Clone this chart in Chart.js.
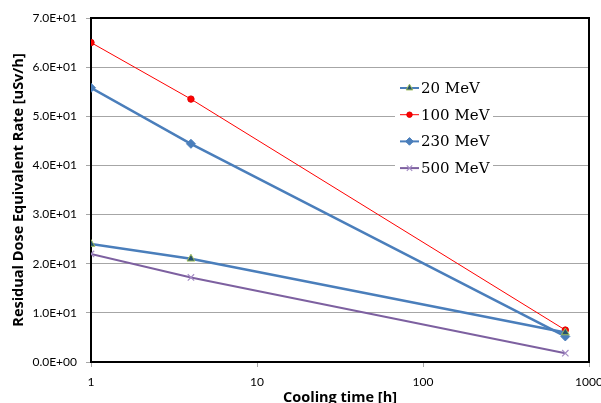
<!DOCTYPE html>
<html>
<head>
<meta charset="utf-8">
<title>Residual Dose Equivalent Rate</title>
<script src="https://cdn.jsdelivr.net/npm/chart.js@4/dist/chart.umd.min.js"></script>
<style>
    html, body { margin: 0; padding: 0; background: #ffffff; }
    #wrap { width: 601px; height: 403px; position: relative; }
</style>
</head>
<body>
<div id="wrap"><canvas id="doseChart"></canvas></div>
<script>
// ==============================
// Data
// ==============================

const coolingTimes = [1, 4, 720];

const seriesNames = ["20 MeV", "100 MeV", "230 MeV", "500 MeV"];

const dose20 = [24.0, 21.0, 6.0];
const dose100 = [65.0, 53.5, 6.5];
const dose230 = [55.8, 44.4, 5.2];
const dose500 = [22.0, 17.2, 1.8];

const xTicks = [1, 10, 100, 1000];
const yMin = 0;
const yMax = 70;
const yStep = 10;

// ==============================
// Helpers
// ==============================

function toPoints(values) {
    return coolingTimes.map((t, i) => ({ x: t, y: values[i] }));
}

function sciLabel(v) {
    if (v === 0) return "0.0E+00";
    const e = Math.floor(Math.log10(v) + 1e-9);
    const m = v / Math.pow(10, e);
    return m.toFixed(1) + "E" + (e < 0 ? "-" : "+") + String(Math.abs(e)).padStart(2, "0");
}

// ==============================
// Legend + frame plugin
// ==============================

const boxLegend = {
    id: "boxLegend",
    afterDatasetsDraw(chart) {
        const ctx = chart.ctx;
        const area = chart.chartArea;

        // frame around plot
        ctx.save();
        ctx.strokeStyle = "#000000";
        ctx.lineWidth = 2;
        ctx.beginPath();
        ctx.moveTo(area.left, area.top);
        ctx.lineTo(area.right, area.top);
        ctx.lineTo(area.right, area.bottom);
        ctx.stroke();

        // legend box
        ctx.fillStyle = "#ffffff";
        ctx.fillRect(395, 75, 98, 106);

        ctx.font = "15px 'DejaVu Serif'";
        ctx.textBaseline = "middle";
        ctx.textAlign = "left";

        chart.data.datasets.forEach((ds, i) => {
            const y = 88 + i * 26.7;
            ctx.strokeStyle = ds.borderColor;
            ctx.lineWidth = Math.min(ds.borderWidth, 2);
            ctx.beginPath();
            ctx.moveTo(400, y);
            ctx.lineTo(419, y);
            ctx.stroke();

            ctx.fillStyle = ds.pointBackgroundColor;
            ctx.strokeStyle = ds.pointBorderColor;
            ctx.lineWidth = ds.pointBorderWidth;
            Chart.helpers.drawPoint(ctx, {
                pointStyle: ds.pointStyle,
                radius: ds.pointRadius * 0.85,
                rotation: 0,
                borderWidth: ds.pointBorderWidth
            }, 409.5, y);

            ctx.fillStyle = "#000000";
            ctx.fillText(ds.label, 421, y + 1);
        });

        ctx.restore();
    }
};

// ==============================
// Chart
// ==============================

const tickFont = { family: "Lato", size: 12 };
const titleFont = { family: "'Open Sans'", size: 14.5, weight: "bold", lineHeight: 1 };

new Chart(document.getElementById("doseChart"), {
    type: "line",
    data: {
        datasets: [
            {
                label: seriesNames[0],
                data: toPoints(dose20),
                borderColor: "#4A7EBB",
                borderWidth: 2.5,
                pointStyle: "triangle",
                pointRadius: 4.5,
                pointBackgroundColor: "#24506E",
                pointBorderColor: "#9BBB59",
                pointBorderWidth: 1
            },
            {
                label: seriesNames[1],
                data: toPoints(dose100),
                borderColor: "#FF0000",
                borderWidth: 1,
                pointStyle: "circle",
                pointRadius: 3.2,
                pointBackgroundColor: "#FF0000",
                pointBorderColor: "#E00000",
                pointBorderWidth: 1
            },
            {
                label: seriesNames[2],
                data: toPoints(dose230),
                borderColor: "#4A7EBB",
                borderWidth: 2.5,
                pointStyle: "rectRot",
                pointRadius: 4.5,
                pointBackgroundColor: "#4A7EBB",
                pointBorderColor: "#4A7EBB",
                pointBorderWidth: 1
            },
            {
                label: seriesNames[3],
                data: toPoints(dose500),
                borderColor: "#7D60A0",
                borderWidth: 2,
                pointStyle: "crossRot",
                pointRadius: 4.5,
                pointBackgroundColor: "#7D60A0",
                pointBorderColor: "#A48CC4",
                pointBorderWidth: 1.2
            }
        ]
    },
    options: {
        responsive: true,
        maintainAspectRatio: false,
        animation: false,
        layout: {
            padding: { left: 0, right: 12, top: 18, bottom: 0 }
        },
        plugins: {
            legend: { display: false },
            tooltip: { enabled: false }
        },
        elements: {
            line: { tension: 0 }
        },
        scales: {
            x: {
                type: "logarithmic",
                min: 1,
                max: 1000,
                afterBuildTicks: (scale) => {
                    scale.ticks = xTicks.map(v => ({ value: v }));
                },
                afterFit: (scale) => {
                    scale.height = 41;
                    scale.paddingLeft = 0;
                    scale.paddingRight = 0;
                },
                ticks: {
                    autoSkip: false,
                    maxRotation: 0,
                    color: "#000000",
                    font: tickFont,
                    padding: 8,
                    callback: (v) => String(v)
                },
                grid: {
                    drawOnChartArea: false,
                    tickLength: 5,
                    color: "#A6A6A6"
                },
                border: { color: "#000000", width: 2 },
                title: {
                    display: true,
                    text: "Cooling time [h]",
                    color: "#000000",
                    font: titleFont,
                    padding: { top: 0, bottom: -2 }
                }
            },
            y: {
                type: "linear",
                min: yMin,
                max: yMax,
                afterFit: (scale) => {
                    scale.width = 91;
                    scale.paddingTop = 0;
                    scale.paddingBottom = 0;
                },
                ticks: {
                    stepSize: yStep,
                    color: "#000000",
                    font: tickFont,
                    padding: 9,
                    callback: (v) => sciLabel(v)
                },
                grid: {
                    color: "#A6A6A6",
                    lineWidth: 1,
                    tickLength: 5
                },
                border: { color: "#000000", width: 2 },
                title: {
                    display: true,
                    text: "Residual Dose Equivalent Rate [uSv/h]",
                    color: "#000000",
                    font: titleFont,
                    padding: { top: 12, bottom: 0 }
                }
            }
        }
    },
    plugins: [boxLegend]
});
</script>
</body>
</html>
